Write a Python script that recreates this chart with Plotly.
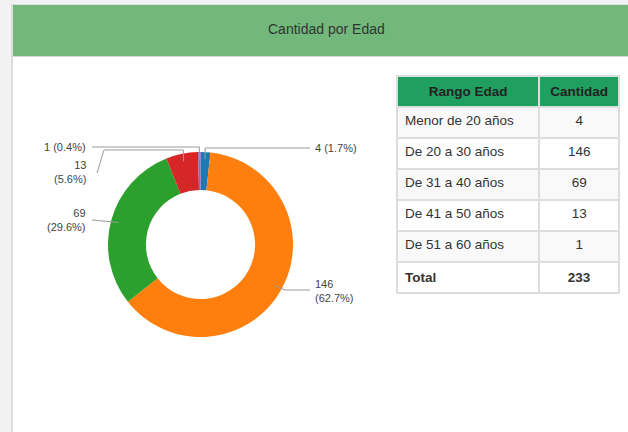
import math
import plotly.graph_objects as go

# ---- data ----
rangos = ["Menor de 20 años", "De 20 a 30 años", "De 31 a 40 años", "De 41 a 50 años", "De 51 a 60 años"]
cantidades = [4, 146, 69, 13, 1]
colores = ["#1f77b4", "#ff7f0e", "#2ca02c", "#d62728", "#9467bd"]
titulo = "Cantidad por Edad"
col_headers = ["Rango Edad", "Cantidad"]

W, H = 628, 432
total = sum(cantidades)

def px(x):
    return x / W

def py(y):
    return 1 - y / H

# donut geometry (pixels)
CX, CY, R = 200.5, 244.5, 92.5

fig = go.Figure()

fig.add_trace(go.Pie(
    values=cantidades, labels=rangos, sort=False, direction="clockwise", rotation=0,
    hole=0.59, marker=dict(colors=colores, line=dict(width=0)),
    textinfo="none", hoverinfo="label+value+percent", showlegend=False,
    domain=dict(x=[px(CX - R), px(CX + R)], y=[py(CY + R), py(CY - R)]),
))

# table
filas_fill = ["#f9f9f9" if i % 2 == 0 else "#ffffff" for i in range(len(rangos))] + ["#ffffff"]
col1 = rangos + ["<b>Total</b>"]
col2 = [str(v) for v in cantidades] + [f"<b>{total}</b>"]
fig.add_trace(go.Table(
    domain=dict(x=[px(397), px(620)], y=[py(300), py(76)]),
    columnwidth=[143, 80],
    header=dict(values=[f"<b>{h}</b>" for h in col_headers], fill_color="#1fa060",
                line=dict(color="#dddddd", width=2), align="center",
                font=dict(family="Liberation Sans, Arial", size=13.5, color="#222222"), height=29),
    cells=dict(values=[col1, col2], fill_color=[filas_fill, filas_fill],
               line=dict(color="#dddddd", width=2), align=["left", "center"],
               font=dict(family="Liberation Sans, Arial", size=13.5, color="#333333"), height=31),
))

# leader lines and labels: anchor points computed from slice mid-angles
label_layout = [
    ([("a", 148), (310, 148)], 313, 148, "left"),
    ([(285, 290), (310, 290)], 313, 291, "left"),
    ([(92, 220)], 88, 220, "right"),
    ([("a", 150), (104, 150), (97, 173)], 88, 172, "right"),
    ([("a", 147), (92, 147)], 88, 147, "right"),
]
inline = {0: True, 4: True}

shapes = [
    dict(type="rect", xref="paper", yref="paper", x0=px(12), x1=px(640), y0=py(445), y1=py(5),
         fillcolor="#ffffff", line=dict(color="#dcdcdc", width=2), layer="below"),
    dict(type="rect", xref="paper", yref="paper", x0=px(13), x1=px(640), y0=py(56), y1=py(5),
         fillcolor="#72b87b", line=dict(width=0), layer="below"),
    dict(type="line", xref="paper", yref="paper", x0=px(13), x1=px(640), y0=py(56.5), y1=py(56.5),
         line=dict(color="#d9d9d9", width=1), layer="below"),
]
annotations = [
    dict(text=titulo, x=px(326), y=py(29), xref="paper", yref="paper", showarrow=False,
         xanchor="center", yanchor="middle",
         font=dict(family="Liberation Sans, Arial", size=14, color="#333333")),
]

cum = 0
for i, v in enumerate(cantidades):
    theta = 2 * math.pi * (cum + v / 2) / total
    cum += v
    ax = CX + 85 * math.sin(theta)
    ay = CY - 85 * math.cos(theta)
    pts = [(ax, ay)]
    path, tx, ty, side = label_layout[i]
    for (x, y) in path:
        pts.append((ax if x == "a" else x, y))
    for (x0, y0), (x1, y1) in zip(pts[:-1], pts[1:]):
        shapes.append(dict(type="line", xref="paper", yref="paper", x0=px(x0), y0=py(y0),
                           x1=px(x1), y1=py(y1), line=dict(color="#9a9a9a", width=1)))
    pct = f"{100 * v / total:.1f}%"
    txt = f"{v} ({pct})" if inline.get(i) else f"{v}<br>({pct})"
    annotations.append(dict(text=txt, x=px(tx), y=py(ty), xref="paper", yref="paper",
                            xanchor="left" if side == "left" else "right", yanchor="middle",
                            align=side, showarrow=False,
                            font=dict(family="Liberation Sans, Arial", size=11, color="#444444")))

fig.update_layout(
    width=W, height=H, margin=dict(l=0, r=0, t=0, b=0),
    paper_bgcolor="#f2f2f2", plot_bgcolor="#ffffff",
    shapes=shapes, annotations=annotations,
)

fig.write_html("out.html", config={"displayModeBar": False},
               post_script="document.body.style.margin='0px';document.body.style.overflow='hidden';")
